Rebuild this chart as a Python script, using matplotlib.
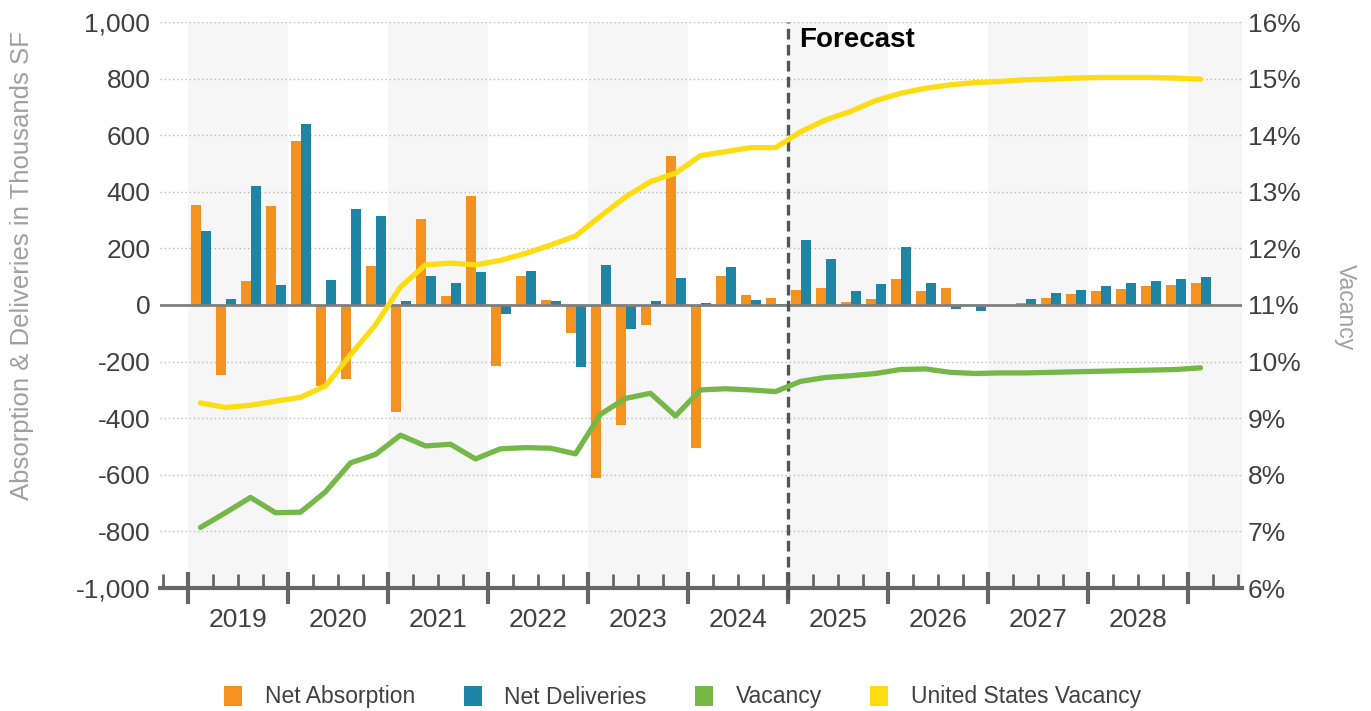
import numpy as np
import matplotlib.pyplot as plt
import matplotlib.transforms as mtransforms
from matplotlib.patches import Patch

plt.rcParams['font.family'] = ['Liberation Sans', 'DejaVu Sans']

# quarterly series, 2019 Q1 through 2029 Q1
years = ['2019', '2020', '2021', '2022', '2023', '2024', '2025', '2026', '2027', '2028']
net_absorption = [355, -248, 86, 351, 578, -286, -262, 137, -378, 304, 32, 385,
                  -215, 102, 18, -100, -612, -425, -72, 528, -506, 104, 37, 25,
                  54, 59, 12, 22, 92, 49, 60, -3, -3, 8, 25, 38, 49, 57, 66, 72, 78]
net_deliveries = [260, 20, 419, 71, 641, 88, 339, 313, 14, 102, 79, 115,
                  -33, 121, 13, -219, 143, -86, 15, 94, 7, 133, 18, 2,
                  228, 161, 49, 74, 206, 79, -14, -22, -2, 22, 41, 54, 66, 78, 85, 91, 98]
vacancy = [7.07, 7.33, 7.60, 7.33, 7.34, 7.70, 8.21, 8.36, 8.70, 8.51, 8.54, 8.28,
           8.46, 8.48, 8.47, 8.37, 9.07, 9.35, 9.44, 9.04, 9.50, 9.52, 9.50, 9.47,
           9.65, 9.72, 9.75, 9.79, 9.86, 9.87, 9.81, 9.79, 9.80, 9.80, 9.81, 9.82,
           9.83, 9.84, 9.85, 9.86, 9.89]
us_vacancy = [9.27, 9.19, 9.23, 9.30, 9.37, 9.57, 10.12, 10.65, 11.32, 11.71, 11.74, 11.71,
              11.79, 11.91, 12.06, 12.22, 12.57, 12.91, 13.18, 13.33, 13.64, 13.71, 13.78, 13.78,
              14.06, 14.27, 14.42, 14.61, 14.74, 14.83, 14.89, 14.93, 14.95, 14.98, 14.99, 15.01,
              15.02, 15.02, 15.02, 15.01, 14.99]
left_ticks = list(range(-1000, 1001, 200))
right_ticks = list(range(6, 17))
forecast_start = 24  # first forecast quarter (2025 Q1)

ORANGE = '#F3921E'
BLUE = '#1F85A4'
GREEN = '#76B848'
YELLOW = '#FDDD12'
TEXT = '#404040'
AXIS = '#666666'

x = np.arange(len(net_absorption))

fig = plt.figure(figsize=(13.71, 7.11), dpi=100)
ax = fig.add_axes([160 / 1371, 123 / 711, 1082 / 1371, 566 / 711])
ax2 = ax.twinx()

xmin, xmax = -1.62, 41.66
ax.set_xlim(xmin, xmax)
ax.set_ylim(-1000, 1000)

# alternate year shading
for k in range(0, len(years) + 1, 2):
    start = -0.5 + 4 * k
    ax.axvspan(start, min(start + 4, xmax), color='#F6F6F6', lw=0, zorder=0)

ax.bar(x - 0.2, net_absorption, 0.4, color=ORANGE, zorder=2)
ax.bar(x + 0.2, net_deliveries, 0.4, color=BLUE, zorder=2)
ax.axhline(0, color='#7F7F7F', lw=2, zorder=3)

ax.set_yticks(left_ticks)
ax.set_yticklabels([f'{v:,}' for v in left_ticks])
ax.yaxis.grid(True, linestyle=(0, (1, 2)), color='#BBBBBB', linewidth=1)
ax.set_axisbelow(True)
ax.tick_params(axis='y', length=0, pad=7, labelsize=19, labelcolor=TEXT)

# year boundaries as major ticks, quarters as minor ticks
ax.set_xticks(np.arange(-0.5, xmax, 4))
ax.set_xticklabels([])
ax.set_xticks(np.arange(-1.5, xmax, 1), minor=True)
ax.tick_params(axis='x', which='major', direction='inout', length=23, width=3, color=AXIS)
ax.tick_params(axis='x', which='minor', direction='in', length=10, width=2, color=AXIS)

trans = mtransforms.blended_transform_factory(ax.transData, ax.transAxes)
for k, yr in enumerate(years):
    ax.text(4 * k + 1.5, -0.057, yr, transform=trans, ha='center', va='center',
            fontsize=19, color=TEXT)

for side in ['left', 'right', 'top']:
    ax.spines[side].set_visible(False)
    ax2.spines[side].set_visible(False)
ax2.spines['bottom'].set_visible(False)
ax.spines['bottom'].set_color(AXIS)
ax.spines['bottom'].set_linewidth(3)

# forecast divider
ax.axvline(forecast_start - 0.5, ymin=-0.02, ymax=1.0, clip_on=False, color='#555555',
           lw=2.4, dashes=(3.2, 1.6), zorder=4)
ax.text(forecast_start - 0.06, 0.968, 'Forecast', transform=trans, ha='left', va='center',
        fontsize=20, fontweight='bold', color='black')

ax2.set_ylim(6, 16)
ax2.set_yticks(right_ticks)
ax2.set_yticklabels([f'{v}%' for v in right_ticks])
ax2.tick_params(axis='y', length=0, pad=4, labelsize=19, labelcolor=TEXT)
ax2.plot(x, vacancy, color=GREEN, lw=3.8, solid_capstyle='round', solid_joinstyle='round')
ax2.plot(x, us_vacancy, color=YELLOW, lw=3.8, solid_capstyle='round', solid_joinstyle='round')

fig.text(22 / 1371, 1 - 266 / 711, 'Absorption & Deliveries in Thousands SF', rotation=90,
         ha='center', va='center', fontsize=18.5, color='#A0A0A0')
fig.text(1345 / 1371, 1 - 307 / 711, 'Vacancy', rotation=270,
         ha='center', va='center', fontsize=16.5, color='#A0A0A0')

handles = [Patch(facecolor=c, edgecolor='none') for c in [ORANGE, BLUE, GREEN, YELLOW]]
labels = ['Net Absorption', 'Net Deliveries', 'Vacancy', 'United States Vacancy']
leg = fig.legend(handles, labels, loc='center', bbox_to_anchor=(0.498, 1 - 697 / 711),
                 ncol=4, frameon=False, fontsize=16.5, handlelength=0.78, handleheight=0.95,
                 handletextpad=1.0, columnspacing=2.1)
for t in leg.get_texts():
    t.set_color(TEXT)

fig.savefig('out.png', dpi=100)
